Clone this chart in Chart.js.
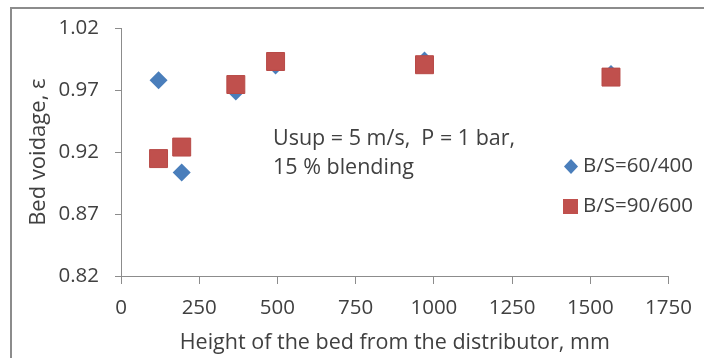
<!DOCTYPE html>
<html>
<head>
<meta charset="utf-8">
<script src="https://cdn.jsdelivr.net/npm/chart.js@4"></script>
<style>
  html, body { margin: 0; padding: 0; background: #fff; }
  #wrap { position: relative; width: 704px; height: 358px; }
  #frame { position: absolute; left: 10px; top: 7px; width: 700px; height: 360px;
           border-left: 2px solid #8c8c8c; border-top: 2px solid #8c8c8c; pointer-events: none; }
</style>
</head>
<body>
<div id="wrap">
  <canvas id="myScatter" width="704" height="358"></canvas>
  <div id="frame"></div>
</div>
<script>
const ctx = document.getElementById('myScatter').getContext('2d');

// tinggi bed (mm)
const heights = [120, 194, 367, 494, 970, 1566];
// bed voidage
const voidage6040 = [0.978, 0.9035, 0.969, 0.990, 0.994, 0.983]; // B/S=60/400
const voidage9060 = [0.9148, 0.9241, 0.9746, 0.9932, 0.9906, 0.9806]; // B/S=90/600

const seriesLabels = ['B/S=60/400', 'B/S=90/600'];
const xTicks = [0, 250, 500, 750, 1000, 1250, 1500, 1750];
const yTicks = [0.82, 0.87, 0.92, 0.97, 1.02];
const noteLines = ['Usup = 5 m/s,  P = 1 bar,', '15 % blending'];

const blue = '#4a7ebb';
const red = '#c0504d';
const font = '"Open Sans", sans-serif';

// teks catatan + legenda manual
const extras = {
    id: 'extras',
    afterDraw(chart) {
        const c = chart.ctx;
        c.save();
        c.fillStyle = '#404040';
        c.font = '21.5px ' + font;
        c.textBaseline = 'middle';
        c.textAlign = 'left';
        c.fillText(noteLines[0], 273, 139);
        c.fillText(noteLines[1], 273, 168);

        // legenda
        c.fillStyle = blue;
        c.beginPath();
        c.moveTo(571, 159); c.lineTo(578, 166.5); c.lineTo(571, 174); c.lineTo(564, 166.5);
        c.closePath(); c.fill();
        c.fillStyle = red;
        c.fillRect(563, 199, 15, 15);
        c.fillStyle = '#404040';
        c.font = '20.5px ' + font;
        c.fillText(seriesLabels[0], 583, 166);
        c.fillText(seriesLabels[1], 583, 206);
        c.restore();
    }
};

const myChart = new Chart(ctx, {
    type: 'scatter',
    data: {
        datasets: [{
            label: seriesLabels[0],
            data: heights.map((h, i) => ({ x: h, y: voidage6040[i] })),
            order: 1,
            pointStyle: 'rectRot',
            pointRadius: 9,
            backgroundColor: blue,
            borderColor: blue,
            borderWidth: 0
        }, {
            label: seriesLabels[1],
            data: heights.map((h, i) => ({ x: h, y: voidage9060[i] })),
            order: 0,
            pointStyle: 'rect',
            pointRadius: 12.7,
            backgroundColor: red,
            borderColor: '#b84a47',
            borderWidth: 1
        }]
    },
    options: {
        responsive: false,
        animation: false,
        layout: { padding: { left: 12, right: 34, top: 26, bottom: 2 } },
        plugins: {
            legend: { display: false },
            tooltip: { enabled: false }
        },
        scales: {
            x: {
                type: 'linear',
                min: 0,
                max: 1750,
                afterBuildTicks: (s) => { s.ticks = xTicks.map(v => ({ value: v })); },
                afterFit: (s) => { s.height = 80; },
                grid: { display: true, drawOnChartArea: false, drawTicks: true, tickLength: 8, color: '#8c8c8c' },
                border: { color: '#8c8c8c', width: 1 },
                ticks: {
                    color: '#404040',
                    font: { size: 20.5, family: font },
                    padding: 12,
                    maxRotation: 0,
                    callback: (v) => String(v)
                },
                title: {
                    display: true,
                    text: 'Height of the bed from the distributor, mm',
                    color: '#404040',
                    font: { size: 21.5, family: font },
                    padding: { top: 4, bottom: 0 }
                }
            },
            y: {
                type: 'linear',
                min: 0.82,
                max: 1.02,
                afterBuildTicks: (s) => { s.ticks = yTicks.map(v => ({ value: v })); },
                afterFit: (s) => { s.width = 109; },
                grid: { display: true, drawOnChartArea: false, drawTicks: true, tickLength: 6, color: '#8c8c8c' },
                border: { color: '#8c8c8c', width: 1 },
                ticks: {
                    color: '#404040',
                    font: { size: 20.5, family: font },
                    padding: 16,
                    callback: (v) => v.toFixed(2)
                },
                title: {
                    display: true,
                    text: 'Bed voidage, ε',
                    color: '#404040',
                    font: { size: 22, family: font },
                    padding: { top: 14, bottom: 0 }
                }
            }
        }
    },
    plugins: [extras]
});
</script>
</body>
</html>
